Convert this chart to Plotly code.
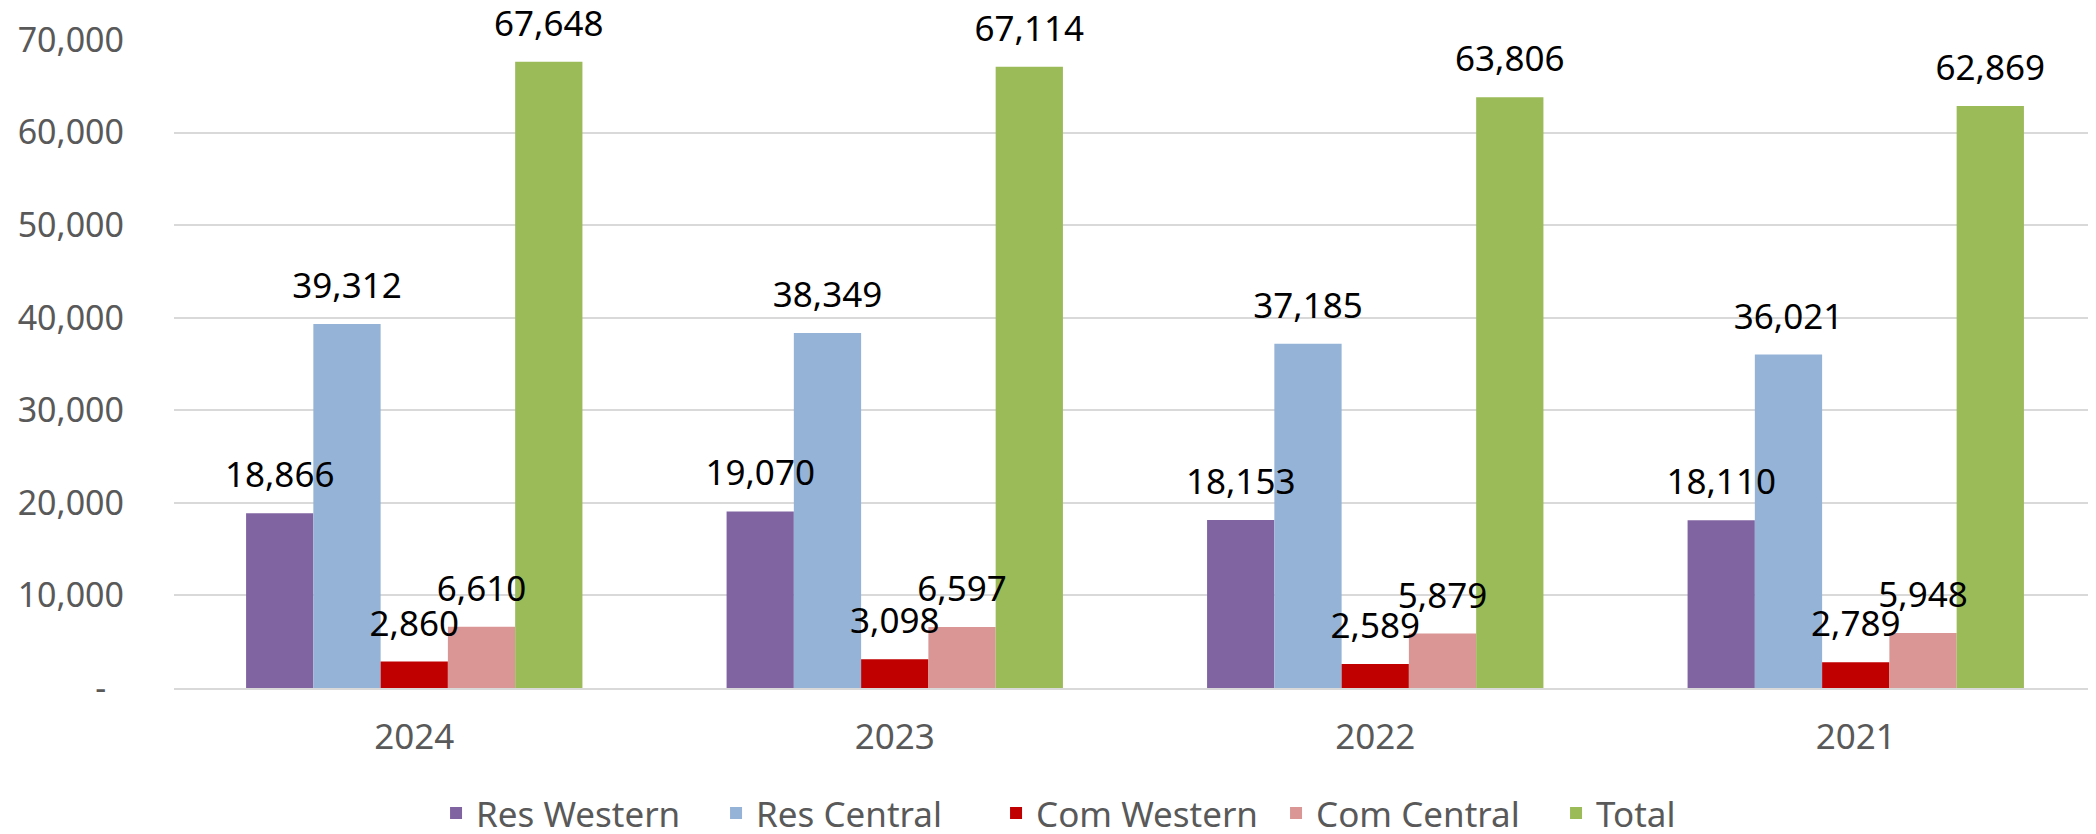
import plotly.graph_objects as go

years = ["2024", "2023", "2022", "2021"]
res_western = [18866, 19070, 18153, 18110]
res_central = [39312, 38349, 37185, 36021]
com_western = [2860, 3098, 2589, 2789]
com_central = [6610, 6597, 5879, 5948]
total = [67648, 67114, 63806, 62869]

y_ticks = [0, 10000, 20000, 30000, 40000, 50000, 60000, 70000]
y_ticktext = ["-\u00a0\u00a0", "10,000", "20,000", "30,000", "40,000", "50,000", "60,000", "70,000"]

FONT = "Noto Sans, Open Sans, sans-serif"
series = [
    ("Res Western", res_western, "#8064A2"),
    ("Res Central", res_central, "#95B3D7"),
    ("Com Western", com_western, "#C00000"),
    ("Com Central", com_central, "#D99694"),
    ("Total", total, "#9BBB59"),
]

fig = go.Figure()
for name, vals, color in series:
    fig.add_trace(go.Bar(
        x=years,
        y=vals,
        name=name,
        marker=dict(color=color, line=dict(width=0)),
        offsetgroup=name,
    ))

# value labels as a text layer so they sit on top of every bar (as in Excel)
for name, vals, color in series:
    fig.add_trace(go.Scatter(
        x=years,
        y=vals,
        mode="markers+text",
        offsetgroup=name,
        marker=dict(size=26, opacity=0),
        text=[f"{v:,}" for v in vals],
        textposition="top center",
        textfont=dict(family=FONT, size=35, color="#000000"),
        cliponaxis=False,
        showlegend=False,
        hoverinfo="skip",
    ))

# page body has an 8px margin, so the figure is 8px smaller than the window
fig.update_layout(
    width=2088,
    height=826,
    barmode="group",
    bargap=0.30,
    bargroupgap=0,
    scattermode="group",
    scattergap=0.30,
    plot_bgcolor="white",
    paper_bgcolor="white",
    margin=dict(l=166, r=0, t=32, b=146),
    font=dict(family=FONT, color="#595959", size=34),
    legend=dict(
        orientation="h",
        xref="container", yref="container",
        x=0.205, xanchor="left",
        y=0.025, yanchor="middle",
        font=dict(size=35, color="#595959"),
        itemwidth=30,
        entrywidth=235,
        entrywidthmode="pixels",
        traceorder="normal",
    ),
    xaxis=dict(
        showgrid=False,
        showline=True, linecolor="#D9D9D9", linewidth=2,
        ticks="",
        ticklabelstandoff=17,
        tickfont=dict(size=35, color="#595959"),
    ),
    yaxis=dict(
        range=[0, 70000],
        tickvals=y_ticks,
        ticktext=y_ticktext,
        showgrid=True, gridcolor="#D9D9D9", gridwidth=1.5,
        zeroline=False,
        ticks="",
        ticklabelstandoff=49,
        tickfont=dict(size=34, color="#595959"),
    ),
)

fig.write_html("out.html")
